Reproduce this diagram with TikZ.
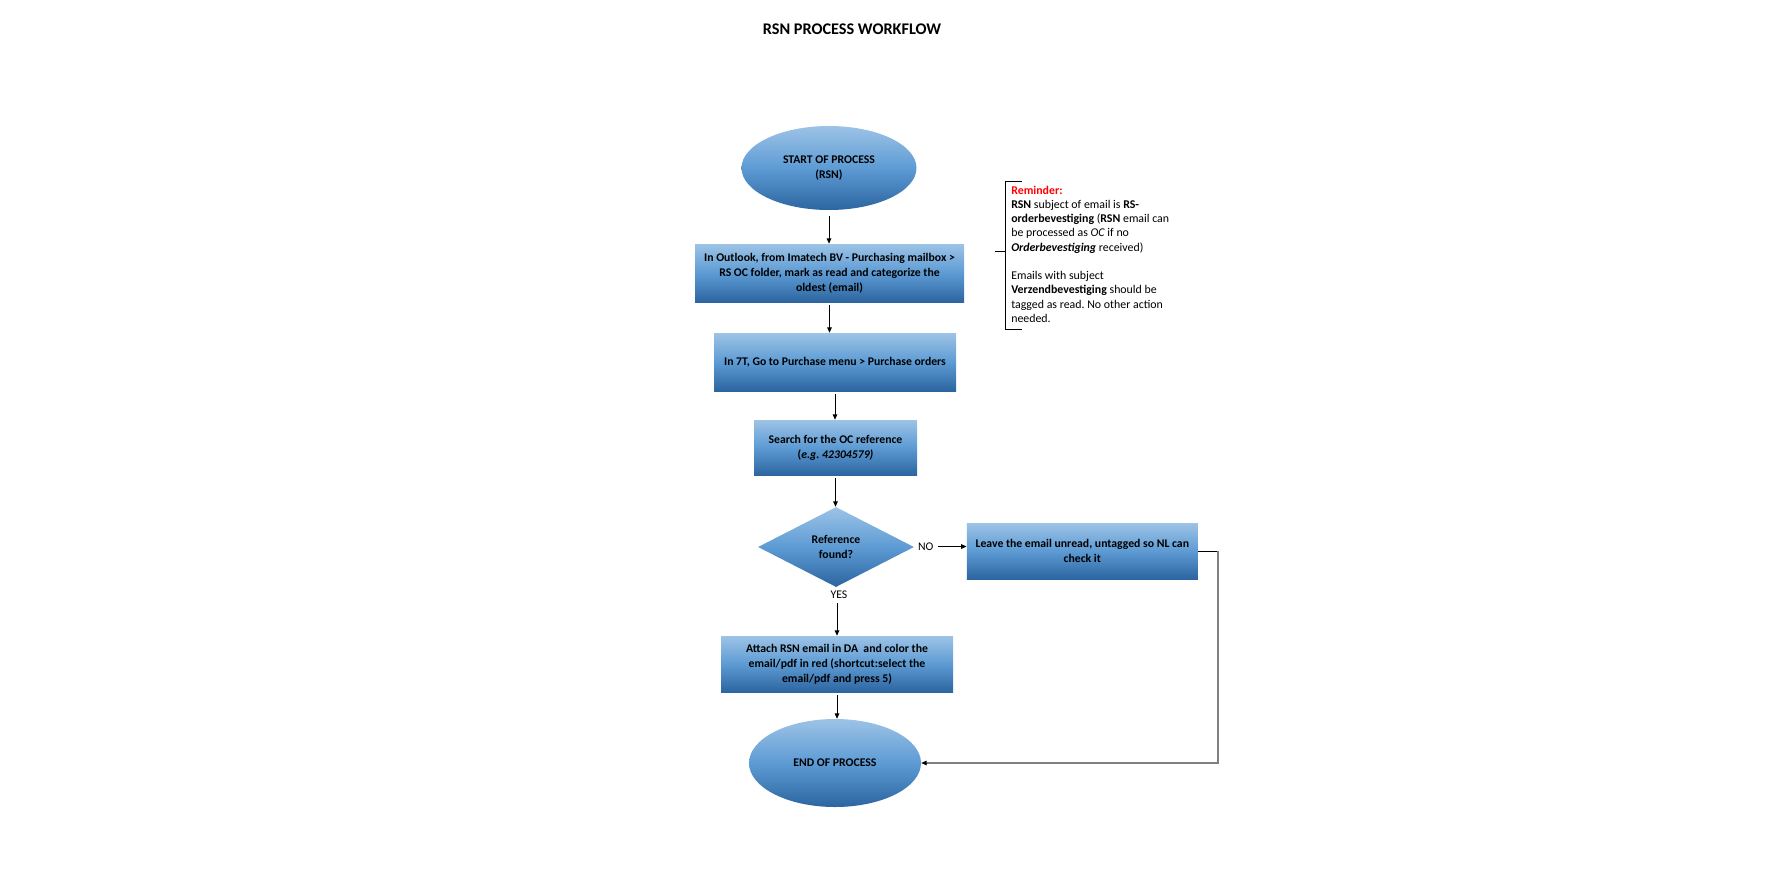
\documentclass[tikz,border=0pt]{standalone}
\usepackage{fontspec}
\setmainfont{Carlito}
\frenchspacing
\usetikzlibrary{shapes.geometric,arrows.meta}
\definecolor{shadetop}{RGB}{157,195,230}
\definecolor{shademid}{RGB}{93,155,212}
\definecolor{shadebot}{RGB}{44,101,160}
\definecolor{loopgray}{RGB}{128,128,128}
\begin{document}
\begin{tikzpicture}[x=0.75pt,y=-0.75pt,
  blueshade/.style={top color=shadetop, bottom color=shadebot, middle color=shademid,
    draw=none, inner sep=0pt, align=center,
    font=\fontsize{8.8}{11.25}\selectfont\bfseries},
  procbox/.style={blueshade, rectangle},
  termnode/.style={blueshade, ellipse},
  decnode/.style={blueshade, diamond},
  tip/.style={-{Triangle[length=4pt,width=3.4pt]}},
  flow/.style={tip, line width=0.75pt, black, shorten <=2.25pt},
  lbl/.style={inner sep=0pt, font=\fontsize{8.8}{11.25}\selectfont}
]
\useasboundingbox (0,0) rectangle (1784,878);

% title
\node[font=\fontsize{12.2}{14}\selectfont\bfseries] (title) at (852,29) {RSN PROCESS WORKFLOW};

% flow nodes
\node[termnode, minimum width=131.25pt, minimum height=63pt] (start) at (829,168) {START OF PROCESS\\(RSN)};
\node[procbox, minimum width=201.75pt, minimum height=43.5pt] (outlook) at (829.5,273)
  {In Outlook, from Imatech BV - Purchasing mailbox >\\RS OC folder, mark as read and categorize the\\oldest (email)};
\node[procbox, minimum width=181.5pt, minimum height=43.5pt] (menu) at (835,362)
  {In 7T, Go to Purchase menu > Purchase orders};
\node[procbox, minimum width=122.25pt, minimum height=41.25pt] (search) at (835.5,447.5)
  {Search for the OC reference\\(\textit{e.g. 42304579)}};
\node[decnode, minimum width=117pt, minimum height=60pt] (found) at (836,547) {Reference\\found?};
\node[procbox, minimum width=173.25pt, minimum height=42pt] (unread) at (1082.3,551)
  {Leave the email unread, untagged so NL can\\check it};
\node[procbox, minimum width=174pt, minimum height=42pt] (attach) at (837,664)
  {Attach RSN email in DA\ \ and color the\\email/pdf in red (shortcut:select the\\email/pdf and press 5)};
\node[termnode, minimum width=129pt, minimum height=66pt] (finish) at (835,763) {END OF PROCESS};

% branch labels
\node[lbl] (no) at (925.7,546.5) {NO};
\node[lbl] (yes) at (839,595) {YES};

% connectors
\draw[flow, shorten <=4.5pt] (start.south) -- (start.south |- outlook.north);
\draw[flow] (outlook.south) -- (outlook.south |- menu.north);
\draw[flow] (menu.south) -- (menu.south |- search.north);
\draw[flow] (search.south) -- (search.south |- found.north);
\draw[flow, shorten <=3pt] (no.east) -- (no.east -| unread.west);
\draw[flow, shorten <=3pt] (attach.north |- yes.south) -- (attach.north);
\draw[flow] (attach.south) -- (attach.south |- finish.north);

% return path from the NO branch
\coordinate (corner) at (1218,551);
\draw[line width=0.75pt, black] (unread.east) -- (unread.east -| corner);
\draw[line width=1.5pt, loopgray] (unread.east -| corner) -- (corner |- finish.east) -- ([xshift=4pt]finish.east);
\draw[tip, line width=0.75pt, black] ([xshift=4.5pt]finish.east) -- (finish.east);

% reminder note with its bracket
\node[inner sep=0pt, anchor=north west, align=left,
      font=\fontsize{8.9}{10.7}\selectfont] (note) at (1011,185.5)
  {{\color{red}\bfseries Reminder:}\\
   \textbf{RSN} subject of email is \textbf{RS-}\\
   \textbf{orderbevestiging} (\textbf{RSN} email can\\
   be processed as \textit{OC} if no\\
   \textbf{\textit{Orderbevestiging}} received)\\[10.7pt]
   Emails with subject\\
   \textbf{Verzendbevestiging} should be\\
   tagged as read. No other action\\
   needed.};
\coordinate (brtop) at (1005.7,181.7);
\coordinate (brbot) at (1005.7,329.3);
\coordinate (brmid) at (1005.7,251.3);
\draw[line width=0.75pt] ([xshift=12pt]brtop) -- (brtop) -- (brbot) -- ([xshift=12pt]brbot);
\draw[line width=0.75pt] ([xshift=-8pt]brmid) -- (brmid);
\end{tikzpicture}
\end{document}
